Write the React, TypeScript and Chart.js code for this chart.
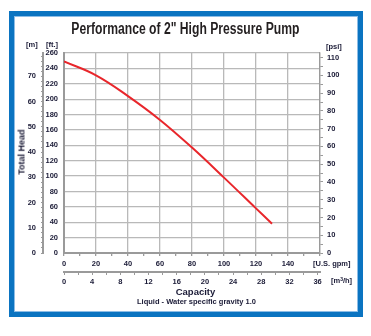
import React, { useEffect, useRef } from "react";
import { Chart, registerables } from "chart.js";

Chart.register(...registerables);

const flowGpm = [0, 20, 40, 60, 80, 100, 120, 130];
const headFt = [249, 231, 204, 173, 137, 98, 58, 38];

const gpmMax = 160;
const ftMax = 260;
const mMax = 79.25; // 260 ft in metres
const psiMax = 112.6; // 260 ft of water in psi
const m3hMax = 36.34; // 160 gpm in m3/h

const TICK_COLOR = "#1a1a36";
const GRID = "#b9b9b9";
const AXIS = "#9a9a9a";
const FONT = { family: "'Liberation Sans', Arial, sans-serif", size: 7.5, weight: "bold" as const };

export default function App() {
  const ref = useRef<HTMLCanvasElement | null>(null);

  useEffect(() => {
    if (!ref.current) return;
    const chart = new Chart(ref.current, {
      type: "line",
      data: {
        datasets: [
          {
            data: flowGpm.map((x, i) => ({ x, y: headFt[i] })),
            borderColor: "#e8262b",
            borderWidth: 2,
            pointRadius: 0,
            tension: 0.4,
            xAxisID: "x",
            yAxisID: "y",
          },
        ],
      },
      options: {
        responsive: false,
        animation: false,
        events: [],
        layout: { autoPadding: false, padding: { left: 15, right: 21, top: 53, bottom: 49 } },
        plugins: { legend: { display: false }, tooltip: { enabled: false }, title: { display: false } },
        scales: {
          x: {
            type: "linear",
            position: "bottom",
            weight: 0,
            min: 0,
            max: gpmMax,
            afterFit: (s: any) => { s.height = 19; },
            ticks: {
              stepSize: 10,
              includeBounds: false,
              autoSkip: false,
              maxRotation: 0,
              padding: 3,
              color: TICK_COLOR,
              font: FONT,
              callback: (v: any) => (v % 20 === 0 && v < 160 ? String(v) : ""),
            },
            grid: {
              color: (c: any) => (c.tick && c.tick.value % 20 === 0 ? GRID : "rgba(0,0,0,0)"),
              tickColor: AXIS,
              tickLength: 3,
              lineWidth: 1.3,
            },
            border: { color: AXIS, width: 2 },
          },
          x2: {
            type: "linear",
            position: "bottom",
            weight: 1,
            min: 0,
            max: m3hMax,
            afterFit: (s: any) => { s.height = 15; },
            ticks: {
              stepSize: 2,
              includeBounds: false,
              autoSkip: false,
              maxRotation: 0,
              padding: 2,
              color: TICK_COLOR,
              font: FONT,
              callback: (v: any) => (v % 4 === 0 ? String(v) : ""),
            },
            grid: { drawOnChartArea: false, tickColor: AXIS, tickLength: 3 },
            border: { color: AXIS, width: 2 },
          },
          y: {
            type: "linear",
            position: "left",
            weight: 0,
            min: 0,
            max: ftMax,
            afterFit: (s: any) => { s.width = 21; },
            ticks: {
              stepSize: 20,
              includeBounds: false,
              autoSkip: false,
              padding: 6,
              color: TICK_COLOR,
              font: FONT,
            },
            grid: { color: GRID, lineWidth: 1.3, drawTicks: false },
            border: { color: AXIS, width: 2 },
          },
          y2: {
            type: "linear",
            position: "left",
            weight: 1,
            min: 0,
            max: mMax,
            afterFit: (s: any) => { s.width = 28; },
            ticks: {
              stepSize: 2,
              includeBounds: false,
              autoSkip: false,
              padding: 5,
              color: TICK_COLOR,
              font: FONT,
              callback: (v: any) => (v % 10 === 0 ? String(v) : ""),
            },
            grid: { drawOnChartArea: false, tickColor: AXIS, tickLength: 2 },
            border: { color: AXIS, width: 2 },
          },
          y3: {
            type: "linear",
            position: "right",
            min: 0,
            max: psiMax,
            afterFit: (s: any) => { s.width = 30; },
            ticks: {
              stepSize: 5,
              includeBounds: false,
              autoSkip: false,
              padding: 4,
              color: TICK_COLOR,
              font: FONT,
              callback: (v: any) => (v % 10 === 0 ? String(v) : ""),
            },
            grid: { drawOnChartArea: false, tickColor: AXIS, tickLength: 3 },
            border: { color: AXIS, width: 1.3 },
          },
        },
      },
    } as any);
    return () => chart.destroy();
  }, []);

  const txt: React.CSSProperties = {
    position: "absolute",
    fontFamily: "'Liberation Sans', Arial, sans-serif",
    fontWeight: "bold",
    color: TICK_COLOR,
    whiteSpace: "nowrap",
    lineHeight: 1,
  };

  return (
    <div style={{ position: "absolute", left: 0, top: 0, width: 371, height: 336, background: "#fff", overflow: "hidden" }}>
      <div
        style={{
          position: "absolute",
          left: 9,
          top: 11,
          width: 354,
          height: 306,
          border: "5px solid #0b74c1",
          boxSizing: "border-box",
          boxShadow: "inset 0 0 0 1px #8dbde6",
        }}
      />
      <canvas ref={ref} width={371} height={336} style={{ position: "absolute", left: 0, top: 0, width: 371, height: 336 }} />
      <div
        style={{
          ...txt,
          left: 0,
          width: 371,
          top: 21,
          textAlign: "center",
          fontFamily: "'Liberation Sans', Arial, sans-serif",
          fontSize: 16,
          color: "#231f20",
          transform: "scaleX(0.76)",
          transformOrigin: "185px 0",
        }}
      >
        Performance of 2" High Pressure Pump
      </div>
      <div style={{ ...txt, left: 26, top: 41, fontSize: 7.5 }}>[m]</div>
      <div style={{ ...txt, left: 46, top: 41, fontSize: 7.5 }}>[ft.]</div>
      <div style={{ ...txt, left: 326, top: 43, fontSize: 7.5 }}>[psi]</div>
      <div
        style={{
          ...txt,
          left: 22,
          top: 152,
          fontSize: 9,
          transform: "translate(-50%, -50%) rotate(-90deg)",
        }}
      >
        Total Head
      </div>
      <div style={{ ...txt, left: 313, top: 260, fontSize: 7.5 }}>[U.S. gpm]</div>
      <div style={{ ...txt, left: 331, top: 277, fontSize: 7.5 }}>
        [m<sup style={{ fontSize: 5, verticalAlign: "top" }}>3</sup>/h]
      </div>
      <div style={{ ...txt, left: 0, width: 391, top: 287, textAlign: "center", fontSize: 9.5 }}>Capacity</div>
      <div style={{ ...txt, left: 0, width: 393, top: 298, textAlign: "center", fontSize: 7.5 }}>
        Liquid - Water specific gravity 1.0
      </div>
    </div>
  );
}
